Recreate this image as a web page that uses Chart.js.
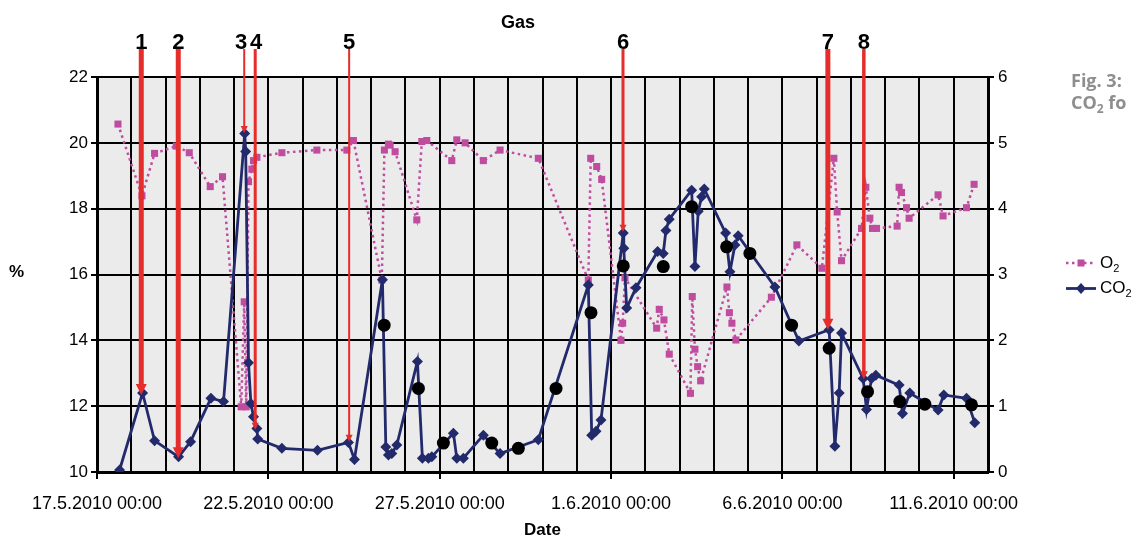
<!DOCTYPE html>
<html><head><meta charset="utf-8">
<script src="https://cdn.jsdelivr.net/npm/chart.js@4/dist/chart.umd.min.js"></script>
<style>
html,body{margin:0;padding:0;background:#fff;overflow:hidden;}
#wrap{position:relative;width:1134px;height:542px;overflow:hidden;}
canvas{position:absolute;left:0;top:0;}
.txt{position:absolute;font-family:'Liberation Sans',Arial,sans-serif;color:#000;white-space:nowrap;}
.sub{font-size:11px;position:relative;top:4px;}
</style></head><body>
<div id="wrap">
<canvas id="c" width="1134" height="542"></canvas>
<div class="txt" style="left:468px;top:11px;width:100px;text-align:center;font-weight:bold;font-size:18px;line-height:22px;">Gas</div>
<div class="txt" style="left:9px;top:262px;font-weight:bold;font-size:17px;line-height:20px;">%</div>
<div class="txt" style="left:1071px;top:69px;font-family:'Open Sans',sans-serif;font-weight:bold;font-size:18px;line-height:22px;color:#8e8e8e;">Fig. 3:<br>CO<span class="sub" style="font-size:12px">2</span> fo</div>
<svg style="position:absolute;left:1066px;top:257px" width="30" height="12"><line x1="0" y1="6" x2="30" y2="6" stroke="#c04ca0" stroke-width="2.5" stroke-dasharray="2.5 3.5"/><rect x="11.5" y="2.5" width="7" height="7" fill="#c04ca0"/></svg>
<div class="txt" style="left:1100px;top:253px;font-size:17px;line-height:20px;">O<span class="sub">2</span></div>
<svg style="position:absolute;left:1066px;top:282px" width="30" height="13"><line x1="0" y1="6.5" x2="30" y2="6.5" stroke="#222a6c" stroke-width="2.8"/><polygon points="15,1 20,6.5 15,12 10,6.5" fill="#222a6c"/></svg>
<div class="txt" style="left:1100px;top:278px;font-size:17px;line-height:20px;">CO<span class="sub">2</span></div>
</div>
<script>
// ---- data ----
const startDateUTC = Date.UTC(2010, 4, 17); // 17.5.2010 00:00
const axisDays = 26;                        // axis runs to 12.6.2010 00:00
const dateLabelEvery = 5;
const leftTicks = [10, 12, 14, 16, 18, 20, 22];
const rightTicks = [0, 1, 2, 3, 4, 5, 6];

const o2Days = [0.612,1.312,1.680,2.313,2.692,3.304,3.663,4.208,4.296,4.354,4.421,4.520,4.567,4.666,5.395,6.416,7.291,7.483,8.311,8.387,8.504,8.554,8.699,9.332,9.478,9.624,10.353,10.499,10.741,11.274,11.762,12.878,14.337,14.407,14.582,14.727,15.290,15.340,15.407,16.331,16.407,16.544,16.699,17.317,17.370,17.448,17.527,17.615,18.382,18.454,18.527,18.644,19.679,20.423,21.152,21.502,21.598,21.726,22.310,22.435,22.552,22.630,22.747,23.348,23.406,23.476,23.622,23.698,24.544,24.689,25.372,25.594];
const o2Values = [20.57,18.39,19.68,19.90,19.70,18.67,18.97,11.98,15.17,11.98,18.82,19.20,19.46,19.56,19.70,19.78,19.78,20.07,15.83,19.78,19.96,19.93,19.73,17.66,20.04,20.07,19.46,20.09,20.00,19.46,19.78,19.53,15.83,19.53,19.28,18.89,14.00,14.52,15.90,14.37,14.94,14.62,13.58,12.39,15.33,13.73,13.20,12.77,15.62,14.84,14.52,14.01,15.31,16.90,16.19,19.53,17.90,16.42,17.40,18.65,17.71,17.40,17.40,17.47,18.65,18.49,18.03,17.71,18.42,17.78,18.03,18.74];

const co2Days = [0.659,1.330,1.680,2.380,2.730,3.325,3.692,4.310,4.339,4.421,4.491,4.567,4.666,4.689,5.395,6.433,7.337,7.512,8.329,8.428,8.504,8.603,8.749,9.350,9.495,9.671,9.770,10.400,10.499,10.691,11.274,11.762,12.878,14.337,14.436,14.561,14.707,15.357,15.372,15.456,15.728,16.360,16.524,16.602,16.699,17.352,17.448,17.544,17.643,17.720,18.344,18.469,18.615,18.711,19.781,20.481,21.365,21.531,21.657,21.726,22.356,22.455,22.601,22.727,23.406,23.505,23.718,24.544,24.710,25.372,25.614];
const co2Values = [0.03,1.20,0.475,0.23,0.46,1.12,1.07,5.14,4.87,1.66,1.04,0.84,0.66,0.50,0.36,0.33,0.45,0.19,2.92,0.38,0.26,0.28,0.41,1.68,0.21,0.21,0.23,0.59,0.21,0.21,0.56,0.28,0.49,2.84,0.56,0.62,0.79,3.63,3.40,2.49,2.80,3.35,3.32,3.67,3.84,4.28,3.12,3.96,4.18,4.30,3.63,3.04,3.45,3.59,2.81,1.99,2.16,0.39,1.20,2.11,1.42,0.95,1.42,1.47,1.32,0.89,1.20,0.94,1.17,1.12,0.75];

const sampleDays = [8.379,9.379,10.108,11.519,12.295,13.395,14.415,15.357,16.524,17.352,18.373,19.052,20.268,21.365,22.485,23.427,24.156,25.518];
const sampleValues = [2.23,1.27,0.44,0.44,0.36,1.27,2.42,3.13,3.12,4.03,3.42,3.32,2.23,1.88,1.22,1.07,1.03,1.02];

const arrowLabels = ['1','2','3','4','5','6','7','8'];
const arrowDays = [1.292,2.371,4.296,4.617,7.358,15.349,21.327,22.377];
const arrowValues = [1.17,0.21,5.15,0.64,0.46,3.65,2.16,1.41];

// ---- styles ----
const FONT = "'Liberation Sans', Arial, sans-serif";
const O2_COLOR = '#c04ca0';
const CO2_COLOR = '#222a6c';
const arrowStyle = {
  top: 49, color: '#e52d2b',
  widths: [5, 5, 2, 3, 2, 3, 5, 3.5],
  labelShift: [0, 0, -3, 1, 0, 0, 0, 0],
  font: "bold 22px " + FONT
};

function fmtDate(v) {
  const d = new Date(startDateUTC + v * 86400000);
  return d.getUTCDate() + '.' + (d.getUTCMonth() + 1) + '.' + d.getUTCFullYear() + ' 00:00';
}
const pts = (xs, ys) => xs.map((x, i) => ({ x: x, y: ys[i] }));

const bgPlugin = {
  id: 'plotBg',
  beforeDraw(chart) {
    const { ctx, chartArea: a } = chart;
    ctx.save();
    ctx.fillStyle = '#ebebeb';
    ctx.fillRect(a.left, a.top, a.right - a.left, a.bottom - a.top);
    ctx.restore();
  }
};

const arrowPlugin = {
  id: 'arrows',
  afterDatasetsDraw(chart) {
    const { ctx } = chart;
    const x = chart.scales.x, y1 = chart.scales.y1;
    ctx.save();
    arrowDays.forEach((d, i) => {
      const px = x.getPixelForValue(d);
      const tip = y1.getPixelForValue(arrowValues[i]);
      const lw = arrowStyle.widths[i];
      const hw = Math.max(3.5, lw + 0.5);
      const hh = hw * 2;
      ctx.strokeStyle = arrowStyle.color;
      ctx.fillStyle = arrowStyle.color;
      ctx.lineWidth = lw;
      ctx.lineCap = 'butt';
      ctx.beginPath();
      ctx.moveTo(px, arrowStyle.top);
      ctx.lineTo(px, tip - hh + 1);
      ctx.stroke();
      ctx.beginPath();
      ctx.moveTo(px - hw, tip - hh);
      ctx.lineTo(px + hw, tip - hh);
      ctx.lineTo(px, tip);
      ctx.closePath();
      ctx.fill();
      ctx.fillStyle = '#000';
      ctx.font = arrowStyle.font;
      ctx.textAlign = 'center';
      ctx.textBaseline = 'alphabetic';
      ctx.fillText(arrowLabels[i], px + arrowStyle.labelShift[i], arrowStyle.top);
    });
    ctx.restore();
  }
};

new Chart(document.getElementById('c'), {
  type: 'line',
  data: {
    datasets: [
      {
        label: 'O\u2082', data: pts(o2Days, o2Values), yAxisID: 'y', order: 3,
        borderColor: O2_COLOR, borderWidth: 2.5, borderDash: [2.5, 3.5], tension: 0,
        pointStyle: 'rect', pointRadius: 5, pointBackgroundColor: O2_COLOR, pointBorderWidth: 0
      },
      {
        label: 'CO\u2082', data: pts(co2Days, co2Values), yAxisID: 'y1', order: 2,
        borderColor: CO2_COLOR, borderWidth: 2.8, tension: 0,
        pointStyle: 'rectRot', pointRadius: 5.5, pointBackgroundColor: CO2_COLOR, pointBorderWidth: 0
      },
      {
        label: 'samples', data: pts(sampleDays, sampleValues), yAxisID: 'y1', order: 1,
        showLine: false, pointStyle: 'circle', pointRadius: 6.5,
        pointBackgroundColor: '#000', pointBorderWidth: 0
      }
    ]
  },
  options: {
    responsive: false, animation: false, devicePixelRatio: 1, events: [],
    layout: { padding: { top: 77, left: 0, right: 0, bottom: 0 } },
    plugins: { legend: { display: false }, tooltip: { enabled: false }, title: { display: false } },
    scales: {
      x: {
        type: 'linear', position: 'bottom', min: 0, max: axisDays,
        afterBuildTicks: s => { s.ticks = Array.from({ length: axisDays + 1 }, (_, i) => ({ value: i })); },
        afterFit: s => { s.height = 70; },
        ticks: {
          autoSkip: false, maxRotation: 0, minRotation: 0, padding: 14, color: '#000',
          font: { family: FONT, size: 18 },
          callback: v => (v % dateLabelEvery === 0 ? fmtDate(v) : '')
        },
        grid: {
          color: '#000', lineWidth: 2, tickLength: 7, tickWidth: 2,
          tickColor: c => (c.tick && c.tick.value % dateLabelEvery === 0 ? '#000' : 'rgba(0,0,0,0)')
        },
        border: { color: '#000', width: 3 },
        title: { display: true, text: 'Date', color: '#000', font: { family: FONT, size: 17, weight: 'bold' }, padding: { top: 0, bottom: 1 } }
      },
      y: {
        type: 'linear', position: 'left', min: leftTicks[0], max: leftTicks[leftTicks.length - 1],
        afterBuildTicks: s => { s.ticks = leftTicks.map(v => ({ value: v })); },
        afterFit: s => { s.width = 97; },
        ticks: { color: '#000', padding: 3, font: { family: FONT, size: 17 } },
        grid: { color: '#000', lineWidth: 2, tickLength: 6 },
        border: { color: '#000', width: 3 }
      },
      y1: {
        type: 'linear', position: 'right', min: rightTicks[0], max: rightTicks[rightTicks.length - 1],
        afterBuildTicks: s => { s.ticks = rightTicks.map(v => ({ value: v })); },
        afterFit: s => { s.width = 146; },
        ticks: { color: '#000', padding: 4, font: { family: FONT, size: 17 } },
        grid: { drawOnChartArea: false, color: '#000', lineWidth: 2, tickLength: 6 },
        border: { color: '#000', width: 3 }
      }
    }
  },
  plugins: [bgPlugin, arrowPlugin]
});
</script>
</body></html>
